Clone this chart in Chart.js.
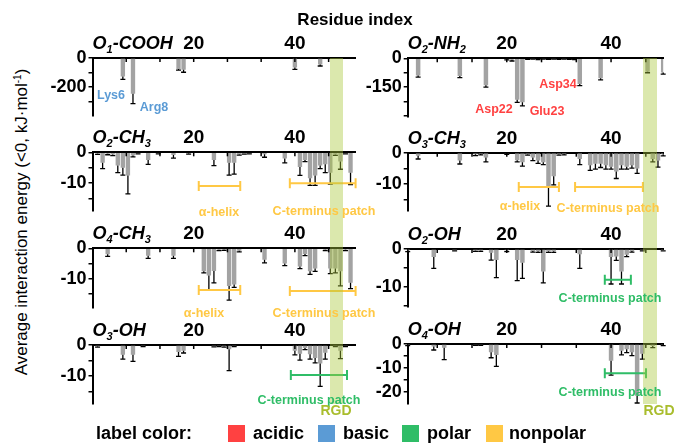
<!DOCTYPE html>
<html>
<head>
<meta charset="utf-8">
<script src="https://cdn.jsdelivr.net/npm/chart.js@4.4.1/dist/chart.umd.min.js"></script>
<style>
html,body{margin:0;padding:0;background:#fff;}
#wrap{position:relative;width:675px;height:443px;overflow:hidden;background:#fff;font-family:"Liberation Sans",Arial,Helvetica,sans-serif;color:#000;}
#wrap canvas{position:absolute;}
.txt{position:absolute;white-space:nowrap;line-height:1;font-weight:bold;z-index:10;}
.c{transform:translate(-50%,-50%);}
.l{transform:translate(0,-50%);}
.ptitle{font-size:18px;font-style:italic;}
.ptitle sub{font-size:11px;vertical-align:-4px;line-height:0;}
.ann{font-size:12.5px;}
.band{position:absolute;background:rgba(170,200,60,0.42);z-index:5;pointer-events:none;}
.sw{position:absolute;width:17px;height:17px;z-index:10;}
</style>
</head>
<body>
<div id="wrap"></div>
<script>
// ---------------- data (residue index, mean energy, error) ----------------
const xTickLabels = ['20', '40'];

const p1Res = [6, 8, 17, 18, 40, 45];
const p1Val = [-127, -245, -75, -80, -65, -45];
const p1Err = [20, 69, 9, 18, 13, 10];

const p2Res = [3, 11, 16, 20, 21, 22, 23, 24, 25, 26, 27, 28, 29, 30, 31, 32, 33, 34, 38, 47, 50];
const p2Val = [-90, -92, -140, -4, -8, -215, -228, -3, -2, -4, -2, -3, -2, -3, -2, -3, -4, -133, -104, -70, -74];
const p2Err = [8, 8, 10, 4, 6, 14, 19, 3, 2, 3, 2, 2, 2, 3, 2, 2, 3, 9, 8, 5, 8];

const p3Res = [1, 2, 3, 4, 5, 6, 7, 8, 9, 11, 13, 16, 19, 24, 27, 28, 29, 30, 31, 34, 38, 41, 42, 43, 44, 45, 46, 47, 48, 49, 50, 51];
const p3Val = [-0.4, -3.4, -0.5, -0.7, -4.3, -5.0, -7.5, -1.0, -0.3, -2.5, -0.3, -0.9, -0.3, -2.5, -3.4, -3.4, -0.6, -0.4, -0.3, -0.6, -2.0, -4.8, -2.5, -8.4, -7.5, -4.3, -3.9, -6.6, -0.7, -3.0, -0.3, -6.6];
const p3Err = [0.3, 1.9, 0.3, 0.4, 2.3, 2.4, 6.0, 0.5, 0.2, 1.4, 0.2, 1.0, 0.3, 1.8, 4.0, 3.7, 0.3, 0.2, 0.2, 1.0, 1.4, 2.7, 0.5, 2.3, 3.2, 1.0, 2.7, 3.7, 0.3, 2.5, 0.2, 3.9];

const p4Res = [3, 11, 14, 15, 16, 20, 22, 23, 24, 25, 26, 27, 28, 29, 30, 31, 34, 36, 37, 38, 39, 40, 41, 42, 43, 44, 45, 48, 49, 50];
const p4Val = [-1.0, -2.5, -0.5, -0.4, -1.5, -0.3, -2.4, -3.0, -0.5, -1.5, -2.5, -3.0, -11.1, -7.5, -0.5, -0.4, -2.0, -4.0, -3.5, -3.5, -4.0, -4.5, -6.0, -4.0, -4.5, -4.0, -5.0, -2.0, -2.5, -0.5];
const p4Err = [1.0, 1.1, 0.4, 0.3, 1.4, 0.2, 0.5, 1.3, 0.3, 1.0, 0.9, 0.8, 5.9, 2.7, 0.3, 0.3, 1.8, 1.6, 1.7, 1.2, 1.2, 0.7, 2.2, 1.2, 0.7, 0.9, 1.6, 0.9, 2.1, 0.5];

const p5Res = [3, 11, 16, 22, 23, 24, 25, 26, 27, 28, 29, 34, 38, 41, 42, 43, 44, 46, 47, 48, 49, 50, 51];
const p5Val = [-2.0, -2.5, -2.5, -7.6, -9.0, -7.5, -0.5, -0.4, -12.5, -12.0, -0.8, -3.8, -5.0, -6.0, -1.9, -7.6, -6.7, -0.5, -6.7, -6.7, -7.6, -0.5, -11.4];
const p5Err = [0.7, 0.8, 0.8, 0.5, 4.8, 3.9, 0.3, 0.3, 4.6, 0.9, 0.4, 1.0, 0.7, 0.7, 0.5, 1.0, 0.9, 0.3, 1.7, 1.4, 4.8, 0.3, 1.9];

const p6Res = [1, 6, 10, 14, 15, 17, 18, 20, 22, 23, 25, 26, 27, 28, 29, 34, 40, 41, 42, 43, 44, 46, 50];
const p6Val = [-0.4, -2.1, -0.3, -0.4, -0.4, -1.0, -2.9, -0.4, -2.9, -3.6, -0.5, -0.6, -5.9, -0.6, -0.6, -1.4, -2.1, -2.0, -5.9, -1.5, -0.5, -0.3, -0.3];
const p6Err = [0.3, 3.0, 0.2, 0.2, 0.2, 1.9, 4.6, 0.3, 5.4, 4.1, 0.3, 0.3, 3.0, 0.3, 0.3, 3.7, 7.1, 1.0, 3.3, 0.5, 0.3, 0.2, 0.2];

const p7Res = [1, 6, 8, 10, 17, 18, 24, 25, 26, 27, 28, 40, 41, 42, 43, 44, 45, 46, 48, 49, 50];
const p7Val = [-0.4, -3.2, -3.2, -0.3, -2.3, -1.9, -0.4, -0.3, -0.4, -1.4, -0.3, -1.9, -2.8, -1.0, -3.0, -4.2, -6.0, -2.5, -0.3, -1.9, -0.3];
const p7Err = [0.3, 1.4, 2.1, 0.2, 1.4, 0.7, 0.2, 0.2, 0.3, 6.9, 0.2, 1.3, 2.1, 0.5, 1.6, 1.6, 7.4, 2.1, 0.2, 2.5, 0.2];

const p8Res = [1, 6, 8, 14, 15, 17, 18, 40, 42, 43, 44, 45, 46, 48, 50];
const p8Val = [-0.4, -1.0, -1.6, -0.4, -0.4, -3.4, -4.6, -7.0, -2.8, -2.2, -3.4, -21.5, -4.0, -0.8, -0.4];
const p8Err = [0.3, 1.5, 4.9, 0.2, 0.2, 2.3, 4.7, 5.9, 1.7, 1.4, 1.4, 3.0, 2.3, 0.7, 0.3];

// ---------------- styles / layout ----------------
const FONT = '"Liberation Sans", Arial, Helvetica, sans-serif';
const C_ACID = '#ff4141', C_BASIC = '#5b9bd5', C_POLAR = '#2fbd67', C_NONPOLAR = '#ffc844', C_RGD = '#a9bd2d';
Chart.defaults.font.family = FONT;

const cols = {
  L: {left: 40, width: 322, yW: 52.5, plotW: 263.1, xmin: 0, xmax: 52, band: [46.9, 49.5]},
  R: {left: 360, width: 315, yW: 47.7, plotW: 255.5, xmin: 1, xmax: 50, band: [46.2, 48.9]}
};

const panels = [
  {res: p1Res, val: p1Val, err: p1Err, col: 'L', axisY: 58, bottom: 126, ymin: -400, step: 100, major: 200,
   title: 'O<sub>1</sub>-COOH', brackets: []},
  {res: p2Res, val: p2Val, err: p2Err, col: 'R', axisY: 58.3, bottom: 126.5, ymin: -306, step: 75, major: 150,
   title: 'O<sub>2</sub>-NH<sub>2</sub>', brackets: []},
  {res: p3Res, val: p3Val, err: p3Err, col: 'L', axisY: 152.3, bottom: 221, ymin: -19.1, step: 5, major: 10,
   title: 'O<sub>2</sub>-CH<sub>3</sub>',
   brackets: [{from: 21.0, to: 29.2, y: -10.9, color: C_NONPOLAR}, {from: 39.0, to: 52.3, y: -10.0, color: C_NONPOLAR}]},
  {res: p4Res, val: p4Val, err: p4Err, col: 'R', axisY: 152.7, bottom: 220.7, ymin: -18.6, step: 5, major: 10,
   title: 'O<sub>3</sub>-CH<sub>3</sub>',
   brackets: [{from: 22.3, to: 30.0, y: -10.9, color: C_NONPOLAR}, {from: 33.1, to: 46.1, y: -10.9, color: C_NONPOLAR}]},
  {res: p5Res, val: p5Val, err: p5Err, col: 'L', axisY: 248.3, bottom: 317.5, ymin: -19.8, step: 5, major: 10,
   title: 'O<sub>4</sub>-CH<sub>3</sub>',
   brackets: [{from: 21.0, to: 29.2, y: -13.8, color: C_NONPOLAR}, {from: 39.0, to: 52.5, y: -14.1, color: C_NONPOLAR}]},
  {res: p6Res, val: p6Val, err: p6Err, col: 'R', axisY: 249, bottom: 316.7, ymin: -15.3, step: 5, major: 10,
   title: 'O<sub>2</sub>-OH',
   brackets: [{from: 38.8, to: 43.8, y: -8.1, color: C_POLAR}]},
  {res: p7Res, val: p7Val, err: p7Err, col: 'L', axisY: 345, bottom: 414, ymin: -19.2, step: 5, major: 10,
   title: 'O<sub>3</sub>-OH',
   brackets: [{from: 39.2, to: 50.3, y: -9.7, color: C_POLAR}]},
  {res: p8Res, val: p8Val, err: p8Err, col: 'R', axisY: 344, bottom: 414, ymin: -25, step: 5, major: 10,
   title: 'O<sub>4</sub>-OH',
   brackets: [{from: 38.8, to: 46.7, y: -12.1, color: C_POLAR}]}
];

const wrap = document.getElementById('wrap');

function addText(html, x, y, cls, style) {
  const d = document.createElement('div');
  d.className = 'txt ' + cls;
  d.innerHTML = html;
  d.style.left = x + 'px';
  d.style.top = y + 'px';
  if (style) Object.assign(d.style, style);
  wrap.appendChild(d);
  return d;
}

function decoPlugin(p) {
  return {
    id: 'deco',
    afterDatasetsDraw(chart) {
      const ctx = chart.ctx, ys = chart.scales.y;
      const meta = chart.getDatasetMeta(0);
      ctx.save();
      ctx.strokeStyle = '#000';
      ctx.lineWidth = 1.3;
      meta.data.forEach((bar, i) => {
        const v = p.val[i], e = p.err[i];
        if (!e) return;
        const y0 = ys.getPixelForValue(v), y1 = ys.getPixelForValue(v - e);
        ctx.beginPath();
        ctx.moveTo(bar.x, y0); ctx.lineTo(bar.x, y1);
        ctx.moveTo(bar.x - 2.5, y1); ctx.lineTo(bar.x + 2.5, y1);
        ctx.stroke();
      });
      ctx.restore();
    },
    afterDraw(chart) {
      const ctx = chart.ctx, xs = chart.scales.x, ys = chart.scales.y, area = chart.chartArea;
      ctx.save();
      ctx.strokeStyle = '#000';
      ctx.lineWidth = 1.5;
      xs.ticks.forEach(t => {
        if (t.value <= xs.min + 1e-6) return;
        const px = xs.getPixelForValue(t.value);
        ctx.beginPath(); ctx.moveTo(px, area.top); ctx.lineTo(px, area.top + 4); ctx.stroke();
      });
      p.brackets.forEach(b => {
        const x0 = xs.getPixelForValue(b.from);
        const x1 = Math.min(xs.getPixelForValue(b.to), area.right);
        const y = ys.getPixelForValue(b.y);
        ctx.strokeStyle = b.color;
        ctx.lineWidth = 2;
        ctx.beginPath();
        ctx.moveTo(x0, y); ctx.lineTo(x1, y);
        ctx.moveTo(x0, y - 5); ctx.lineTo(x0, y + 5);
        ctx.moveTo(x1, y - 5); ctx.lineTo(x1, y + 5);
        ctx.stroke();
      });
      ctx.restore();
    }
  };
}

function makePanel(p) {
  const c = cols[p.col];
  const top = Math.floor(p.axisY) - 28;
  const xH = p.axisY - top;
  const h = Math.ceil(p.bottom) + 3 - top;
  const padB = h - (p.bottom - top);
  const padR = c.width - c.yW - c.plotW;
  const cv = document.createElement('canvas');
  cv.width = c.width; cv.height = h;
  cv.style.left = c.left + 'px'; cv.style.top = top + 'px';
  cv.style.width = c.width + 'px'; cv.style.height = h + 'px';
  wrap.appendChild(cv);
  const chart = new Chart(cv, {
    type: 'bar',
    data: {
      datasets: [{
        data: p.res.map((r, i) => ({x: r, y: p.val[i]})),
        backgroundColor: '#a3a3a3',
        borderWidth: 0,
        barPercentage: 0.86,
        categoryPercentage: 1
      }]
    },
    options: {
      responsive: false,
      animation: false,
      devicePixelRatio: 1,
      events: [],
      layout: {padding: {left: 0, top: 0, right: padR, bottom: padB}},
      plugins: {legend: {display: false}, tooltip: {enabled: false}},
      scales: {
        x: {
          type: 'linear', position: 'top', min: c.xmin, max: c.xmax, offset: false,
          grid: {display: false, drawTicks: false},
          border: {display: true, color: '#000', width: 2},
          ticks: {
            stepSize: 20 / 3, autoSkip: false, maxRotation: 0, includeBounds: false,
            font: {family: FONT, size: 19, weight: 'bold'}, color: '#000', padding: 3,
            callback: v => {
              const r = Math.round(v);
              return (Math.abs(v - r) < 1e-6 && xTickLabels.includes(String(r))) ? String(r) : '';
            }
          },
          afterFit: s => { s.height = xH; }
        },
        y: {
          type: 'linear', min: p.ymin, max: 0,
          grid: {display: true, drawOnChartArea: false, drawTicks: true, tickLength: 4, color: '#000', lineWidth: 1.5},
          border: {display: true, color: '#000', width: 2},
          ticks: {
            stepSize: p.step, includeBounds: false, autoSkip: false,
            font: {family: FONT, size: 18, weight: 'bold'}, color: '#000', padding: 2,
            callback: v => (Math.abs(v % p.major) < 1e-6 && v >= p.ymin * 0.9) ? String(Math.round(v)) : ''
          },
          afterBuildTicks: s => { s.ticks = s.ticks.filter(t => t.value > s.min + 1e-9); },
          afterFit: s => { s.width = c.yW; }
        }
      }
    },
    plugins: [decoPlugin(p)]
  });
  // panel title
  addText(p.title, c.left + c.yW, p.axisY - 15, 'l ptitle');
  return {chart, top};
}

const made = panels.map(makePanel);

// RGD bands, positioned through each column's x scale
function addBand(pi, lastPi, band) {
  const m = made[pi], p = panels[pi], c = cols[p.col];
  const xs = m.chart.scales.x;
  const x0 = c.left + xs.getPixelForValue(band[0]);
  const x1 = c.left + xs.getPixelForValue(band[1]);
  const y0 = p.axisY;
  const y1 = panels[lastPi].bottom - 10;
  const d = document.createElement('div');
  d.className = 'band';
  d.style.left = x0 + 'px'; d.style.width = (x1 - x0) + 'px';
  d.style.top = y0 + 'px'; d.style.height = (y1 - y0) + 'px';
  wrap.appendChild(d);
}
addBand(0, 6, cols.L.band);
addBand(1, 7, cols.R.band);

// titles
addText('Residue index', 355, 19, 'c', {fontSize: '17px'});
addText('Average interaction energy (&lt;0, kJ·mol<sup style="font-size:10px;vertical-align:6px;line-height:0">-1</sup>)', 21, 222, '',
  {fontSize: '17px', fontWeight: 'normal', transform: 'translate(-50%,-50%) rotate(-90deg)'});

// residue labels
addText('Lys6', 111, 95, 'c ann', {color: C_BASIC});
addText('Arg8', 154, 107, 'c ann', {color: C_BASIC});
addText('Asp34', 558, 84, 'c ann', {color: C_ACID});
addText('Asp22', 494, 109, 'c ann', {color: C_ACID});
addText('Glu23', 547, 111, 'c ann', {color: C_ACID});

// region labels
addText('α-helix', 219, 211.5, 'c ann', {color: C_NONPOLAR});
addText('C-terminus patch', 324, 211, 'c ann', {color: C_NONPOLAR});
addText('α-helix', 520, 206, 'c ann', {color: C_NONPOLAR});
addText('C-terminus patch', 608, 207.7, 'c ann', {color: C_NONPOLAR});
addText('α-helix', 204, 313.3, 'c ann', {color: C_NONPOLAR});
addText('C-terminus patch', 324, 313, 'c ann', {color: C_NONPOLAR});
addText('C-terminus patch', 610, 298.3, 'c ann', {color: C_POLAR});
addText('C-terminus patch', 309, 400, 'c ann', {color: C_POLAR});
addText('C-terminus patch', 610, 391.7, 'c ann', {color: C_POLAR});
addText('RGD', 336, 410, 'c', {fontSize: '14px', color: C_RGD});
addText('RGD', 659, 410, 'c', {fontSize: '14px', color: C_RGD});

// legend
const legendItems = [
  {label: 'acidic', color: C_ACID, sx: 228, tx: 253},
  {label: 'basic', color: C_BASIC, sx: 318, tx: 343},
  {label: 'polar', color: C_POLAR, sx: 402, tx: 427},
  {label: 'nonpolar', color: C_NONPOLAR, sx: 486, tx: 509}
];
addText('label color:', 96, 433, 'l', {fontSize: '18px'});
legendItems.forEach(it => {
  const s = document.createElement('div');
  s.className = 'sw';
  s.style.left = it.sx + 'px'; s.style.top = '425px'; s.style.background = it.color;
  wrap.appendChild(s);
  addText(it.label, it.tx, 433, 'l', {fontSize: '18px'});
});
</script>
</body>
</html>
